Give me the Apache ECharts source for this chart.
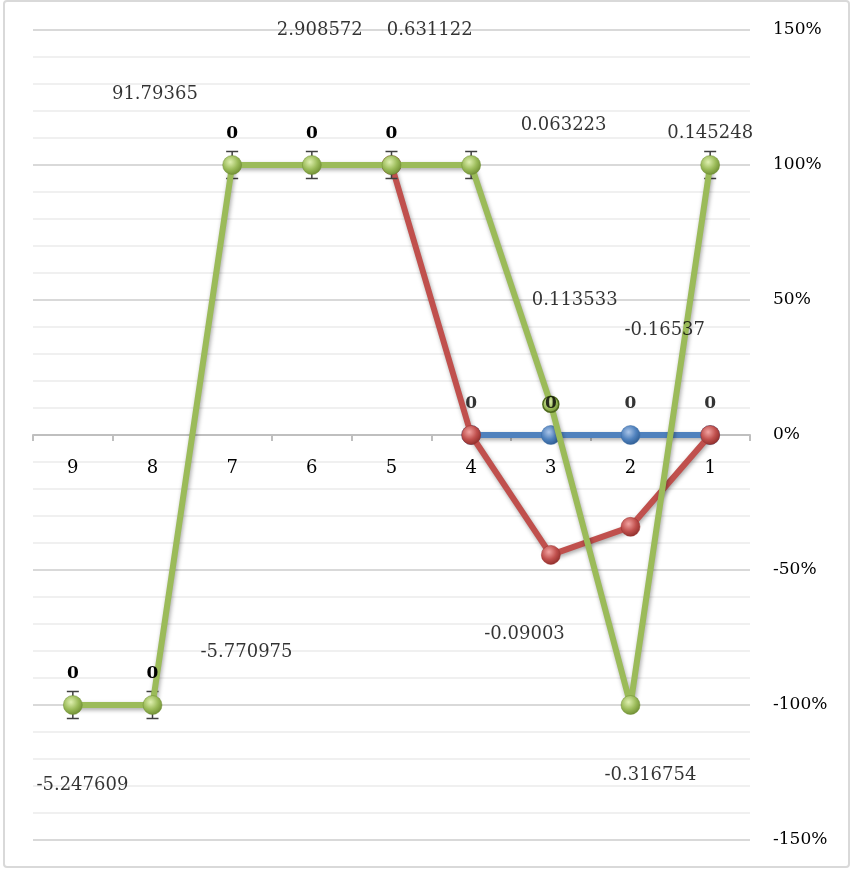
<!DOCTYPE html>
<html><head><meta charset="utf-8">
<script src="https://cdn.jsdelivr.net/npm/echarts@6/dist/echarts.min.js"></script>
<style>html,body{margin:0;padding:0;background:#fff}#c{width:852px;height:870px}</style>
</head><body><div id="c"></div>
<script>
// ---- data ----
const categories = ['9','8','7','6','5','4','3','2','1'];
const blueValues  = [null,null,null,null,null,0,0,0,0];
const redValues   = [null,null,null,null,100,0,-44.4,-34,0];
const greenValues = [-100,-100,100,100,100,100,11.4,-100,100];
// which points carry a bold "0" data label
const blueLabelShown  = [false,false,false,false,false,true,true,true,true];
const greenLabelShown = [true,true,true,true,true,false,false,false,false];
// error bar half-widths (percent) on green points
const greenError = [5,5,5,5,5,5,null,null,5];
// free-floating value labels: [category position, y value (%), text]
const floatLabelX    = [1.03, 3.1, 4.48, 6.16, 8.0, 6.3, 7.43, 5.67, 2.18, 7.25, 0.12];
const floatLabelY    = [126.3, 150, 150, 114.8, 111.9, 50, 38.9, -74, -80.4, -126, -129.6];
const floatLabelText = ['91.79365','2.908572','0.631122','0.063223','0.145248','0.113533','-0.16537','-0.09003','-5.770975','-0.316754','-5.247609'];
const yTickLabels = {'150':'150%','100':'100%','50':'50%','0':'0%','-50':'-50%','-100':'-100%','-150':'-150%'};

const FONT = 'DejaVu Serif';
function sphere(base, light, dark){
  return {type:'radial', x:0.4, y:0.35, r:0.7, colorStops:[
    {offset:0,color:light},{offset:0.55,color:base},{offset:1,color:dark}]};
}
const blueFill  = sphere('#4f81bd','#a9c4e8','#2c5a8f');
const redFill   = sphere('#c0504d','#f2a3a1','#8a2b28');
const greenFill = sphere('#9bbb59','#dff0b0','#6b8a30');

function mk(values, shown){
  return values.map((v,i)=>({value:v, label:{show: !!(shown && shown[i])}}));
}
const lineShadow = {shadowColor:'rgba(0,0,0,0.35)', shadowBlur:4, shadowOffsetX:1, shadowOffsetY:2};
const zeroLabel = {position:'top', distance:13, formatter:()=> '0', fontFamily:FONT, fontWeight:'bold', fontSize:17, color:'#000'};

const greenData = mk(greenValues, greenLabelShown);
greenData[6].symbolSize = 16;
greenData[6].itemStyle = {borderColor:'#4f6a1e', borderWidth:1.5};

// blue "0" labels drawn in their own top-most layer (they sit over the green marker at 3)
const blueLabelData = blueValues.map((v,i)=> (v!=null && blueLabelShown[i]) ? [i, v] : null).filter(d=>d);

const chart = echarts.init(document.getElementById('c'));
chart.setOption({
  animation:false,
  backgroundColor:'#fff',
  grid:{left:33, right:102, top:30, bottom:30, containLabel:false, outerBoundsMode:'none'},
  xAxis:[{
    type:'category', data:categories, boundaryGap:true,
    axisLine:{onZero:true, lineStyle:{color:'#bfbfbf', width:2}},
    axisTick:{show:true, length:6, inside:false, lineStyle:{color:'#bfbfbf', width:2}},
    axisLabel:{margin:-381, fontFamily:FONT, fontSize:18, color:'#000'},
    splitLine:{show:false}
  },{
    type:'value', min:-0.5, max:8.5, show:false
  }],
  yAxis:{
    type:'value', position:'right', min:-150, max:150, interval:10,
    axisLine:{show:false}, axisTick:{show:false},
    axisLabel:{margin:23, align:'left', fontFamily:FONT, fontSize:17, color:'#000',
      formatter:v=> yTickLabels[String(v)] || ''},
    splitLine:{show:true, lineStyle:{color:['#d9d9d9','#f0f0f0','#f0f0f0','#f0f0f0','#f0f0f0'], width:2}}
  },
  series:[
    {type:'line', name:'blue', data:blueValues, symbol:'circle', symbolSize:19,
     lineStyle:Object.assign({color:'#4f81bd', width:6}, lineShadow),
     itemStyle:{color:blueFill, borderColor:'#3a6aa3', borderWidth:0.5},
     label:{show:false}, z:2},
    {type:'line', name:'red', data:mk(redValues), symbol:'circle', symbolSize:19,
     lineStyle:Object.assign({color:'#c0504d', width:6}, lineShadow),
     itemStyle:{color:redFill, borderColor:'#9a3330', borderWidth:0.5},
     label:zeroLabel, z:3},
    {type:'custom', name:'err', z:4,
     renderItem:function(params, api){
       const i = api.value(0), v = api.value(1), e = api.value(2);
       const top = api.coord([i, v+e]), bot = api.coord([i, v-e]);
       const cw = 6;
       const st = {stroke:'#404040', lineWidth:1.5};
       return {type:'group', children:[
         {type:'line', shape:{x1:top[0],y1:top[1],x2:bot[0],y2:bot[1]}, style:st},
         {type:'line', shape:{x1:top[0]-cw,y1:top[1],x2:top[0]+cw,y2:top[1]}, style:st},
         {type:'line', shape:{x1:bot[0]-cw,y1:bot[1],x2:bot[0]+cw,y2:bot[1]}, style:st}
       ]};
     },
     data: greenValues.map((v,i)=> greenError[i]==null ? null : [i, v, greenError[i]]).filter(d=>d)
    },
    {type:'line', name:'green', data:greenData, symbol:'circle', symbolSize:19,
     lineStyle:Object.assign({color:'#9bbb59', width:6}, lineShadow),
     itemStyle:{color:greenFill, borderColor:'#6f8f35', borderWidth:0.5},
     label:zeroLabel, z:5},
    {type:'scatter', name:'blueLabels', symbolSize:19, symbol:'circle',
     itemStyle:{color:'rgba(0,0,0,0)', borderWidth:0}, z:7, silent:true,
     data: blueLabelData,
     label:Object.assign({show:true}, zeroLabel)
    },
    {type:'scatter', name:'labels', xAxisIndex:1, symbolSize:0, z:6,
     data: floatLabelX.map((x,i)=>({value:[x, floatLabelY[i]], name:floatLabelText[i]})),
     label:{show:true, position:'inside', formatter:p=>p.name, fontFamily:FONT, fontSize:18, color:'#000'}
    }
  ],
  graphic:[{type:'rect', shape:{x:4, y:1, width:845, height:866, r:3}, style:{fill:null, stroke:'#d9d9d9', lineWidth:2}, silent:true}]
});
</script></body></html>
